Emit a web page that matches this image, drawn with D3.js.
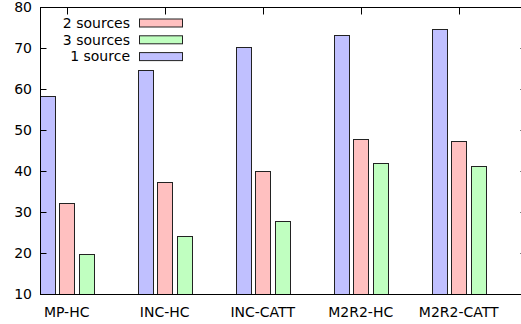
<!DOCTYPE html>
<html>
<head>
<meta charset="utf-8">
<script src="https://cdn.jsdelivr.net/npm/d3@7"></script>
<style>
  body { margin: 0; background: #fff; }
  text { font-family: "DejaVu Sans", sans-serif; font-size: 14px; fill: #000; }
</style>
</head>
<body>
<div id="chart"></div>
<script>
// data
var categories = ["MP-HC", "INC-HC", "INC-CATT", "M2R2-HC", "M2R2-CATT"];
var series = ["1 source", "2 sources", "3 sources"];
var oneSource = [58.4, 64.6, 70.3, 73.2, 74.6];
var twoSources = [32.3, 37.4, 40.1, 47.8, 47.3];
var threeSources = [19.8, 24.1, 27.8, 41.9, 41.2];
var yTicks = [10, 20, 30, 40, 50, 60, 70, 80];
var legendOrder = ["2 sources", "3 sources", "1 source"];

var colors = { "1 source": "#c0c0ff", "2 sources": "#ffc0c0", "3 sources": "#c0ffc0" };
var valuesBySeries = { "1 source": oneSource, "2 sources": twoSources, "3 sources": threeSources };

var svgWidth = 521, svgHeight = 324;
// plot box (right edge sits just past the window, as in the reference)
var plotLeft = 40, plotTop = 7, plotBottom = 294, plotRight = 526;

var svg = d3.select("#chart").append("svg")
  .attr("width", svgWidth)
  .attr("height", svgHeight);

var g = svg.append("g").attr("transform", "translate(0.5,0.5)");

// scales
var yScale = d3.scaleLinear().domain([10, 80]).range([plotBottom, plotTop]);
var x0 = d3.scaleBand().domain(categories).range([17.7, 17.7 + 98 * categories.length]);
var x1 = d3.scaleBand().domain(series)
  .range([x0.bandwidth() * 0.2, x0.bandwidth() * 0.8])
  .paddingInner(0.25).paddingOuter(0.125);

// bottom ticks (inward, mostly hidden behind bars)
g.selectAll(".btick").data(categories).enter().append("line")
  .attr("x1", d => Math.round(x0(d) + x0.bandwidth() / 2))
  .attr("x2", d => Math.round(x0(d) + x0.bandwidth() / 2))
  .attr("y1", plotBottom).attr("y2", plotBottom - 7)
  .attr("stroke", "#000");

// bars
var rows = [];
categories.forEach(function(c, i) {
  series.forEach(function(s) {
    rows.push({ cat: c, s: s, v: valuesBySeries[s][i] });
  });
});

g.selectAll("rect.bar").data(rows).enter().append("rect")
  .attr("class", "bar")
  .attr("x", d => Math.round(x0(d.cat) + x1(d.s)))
  .attr("y", d => Math.round(yScale(d.v)))
  .attr("width", Math.round(x1.bandwidth()))
  .attr("height", d => plotBottom - Math.round(yScale(d.v)))
  .attr("fill", d => colors[d.s])
  .attr("stroke", "#222")
  .attr("stroke-width", 1);

// border
g.append("rect")
  .attr("x", plotLeft).attr("y", plotTop)
  .attr("width", plotRight - plotLeft).attr("height", plotBottom - plotTop)
  .attr("fill", "none").attr("stroke", "#000");

// y ticks left and right (inward)
g.selectAll(".ltick").data(yTicks).enter().append("line")
  .attr("x1", plotLeft).attr("x2", plotLeft + 6)
  .attr("y1", d => yScale(d)).attr("y2", d => yScale(d))
  .attr("stroke", "#000");
g.selectAll(".rtick").data(yTicks).enter().append("line")
  .attr("x1", plotRight - 6).attr("x2", plotRight)
  .attr("y1", d => yScale(d)).attr("y2", d => yScale(d))
  .attr("stroke", "#000");

// top ticks (mirror)
g.selectAll(".ttick").data(categories).enter().append("line")
  .attr("x1", d => Math.round(x0(d) + x0.bandwidth() / 2))
  .attr("x2", d => Math.round(x0(d) + x0.bandwidth() / 2))
  .attr("y1", plotTop).attr("y2", plotTop + 7)
  .attr("stroke", "#000");

// y labels
svg.selectAll(".ylab").data(yTicks).enter().append("text")
  .attr("x", 32)
  .attr("y", d => yScale(d) + 5)
  .attr("text-anchor", "end")
  .text(d => d);

// x labels
svg.selectAll(".xlab").data(categories).enter().append("text")
  .attr("x", d => x0(d) + x0.bandwidth() / 2)
  .attr("y", 316.5)
  .attr("text-anchor", "middle")
  .text(d => d);

// legend
var legend = svg.selectAll(".leg").data(legendOrder).enter().append("g")
  .attr("transform", (d, i) => `translate(0, ${22.5 + i * 16.8})`);

legend.append("text")
  .attr("x", 130).attr("y", 5.3)
  .attr("text-anchor", "end")
  .text(d => d);

legend.append("rect")
  .attr("x", 139.5).attr("y", -3.5)
  .attr("width", 43).attr("height", 8)
  .attr("fill", d => colors[d])
  .attr("stroke", "#222");
</script>
</body>
</html>
